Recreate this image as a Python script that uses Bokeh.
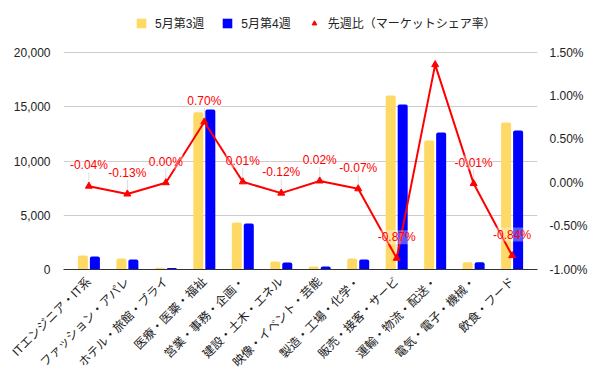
import math
from bokeh.plotting import figure
from bokeh.models import (ColumnDataSource, Range1d, LinearAxis, FixedTicker,
                          NumeralTickFormatter, PrintfTickFormatter, Legend, LegendItem, FactorRange)
from bokeh.transform import dodge
from bokeh.core.properties import value
from bokeh.embed import file_html
from bokeh.resources import INLINE

categories = ["ITエンジニア・IT系", "ファッション・アパレ", "ホテル・旅館・ブライ", "医療・医薬・福祉",
              "営業・事務・企画・", "建設・土木・エネル", "映像・イベント・芸能", "製造・工場・化学・",
              "販売・接客・サービ", "運輸・物流・配送・", "電気・電子・機械・", "飲食・フード"]
week3 = [1290, 1010, 150, 14500, 4330, 740, 280, 1010, 16030, 11890, 670, 13550]
week4 = [1200, 920, 130, 14750, 4240, 650, 270, 920, 15200, 12630, 660, 12800]
share_change = [-0.04, -0.13, 0.00, 0.70, 0.01, -0.12, 0.02, -0.07, -0.87, 1.36, -0.01, -0.84]
series_names = ["5月第3週", "5月第4週", "先週比（マーケットシェア率）"]
left_ticks = [0, 5000, 10000, 15000, 20000]
right_ticks = [-1.0, -0.5, 0.0, 0.5, 1.0, 1.5]

FONT = "Liberation Sans, Noto Sans CJK JP"
YELLOW = "#ffd966"
BLUE = "#0000ff"
RED = "#ff0000"

# layout: plotting area 217px tall, with 40px of headroom above it for the legend
plot_h = 217
head = 40
frame_h = plot_h + head
pct_lo, pct_hi = right_ticks[0], right_ticks[-1]
px = (pct_hi - pct_lo) / plot_h
left_px = (left_ticks[-1] - left_ticks[0]) / plot_h
labels = [("%.2f%%" % v) if v + 27 * px <= pct_hi else "" for v in share_change]

src = ColumnDataSource(dict(cat=categories, w3=week3, w4=week4, chg=share_change,
                            lab=labels,
                            lead0=[v + 2 * px for v in share_change],
                            lead1=[v + 14 * px if l else v for v, l in zip(share_change, labels)]))

p = figure(x_range=FactorRange(*categories, range_padding=0.16, range_padding_units="absolute"),
           y_range=Range1d(left_ticks[0], left_ticks[-1] + head * left_px),
           frame_width=474, frame_height=frame_h, output_backend="svg", toolbar_location=None,
           min_border_left=63, min_border_right=63, min_border_top=12, min_border_bottom=0)
p.extra_y_ranges = {"pct": Range1d(pct_lo, pct_hi + head * px)}
p.outline_line_color = None
p.xgrid.grid_line_color = None
p.ygrid.grid_line_color = "#cccccc"
p.ygrid.ticker = FixedTicker(ticks=left_ticks)

r3 = p.vbar(x=dodge("cat", -0.156, range=p.x_range), top="w3", width=0.26, source=src,
            fill_color=YELLOW, line_color=None, border_radius=(2, 2, 0, 0))
r4 = p.vbar(x=dodge("cat", 0.156, range=p.x_range), top="w4", width=0.26, source=src,
            fill_color=BLUE, line_color=None, border_radius=(2, 2, 0, 0))

p.segment(x0="cat", x1="cat", y0="lead0", y1="lead1", source=src, y_range_name="pct",
          line_color="#dddddd", line_width=1)
p.line(x="cat", y="chg", source=src, y_range_name="pct", line_color=RED, line_width=2)
rm = p.scatter(x="cat", y="chg", source=src, y_range_name="pct", marker="triangle",
               size=7, fill_color=RED, line_color=RED)
p.text(x="cat", y="chg", text="lab", source=src, y_range_name="pct", y_offset=-21,
       text_align="center", text_baseline="middle", text_color=RED,
       text_font=value(FONT), text_font_size="12px",
       background_fill_color="white", background_fill_alpha=0.35)

# axes
ax = p.yaxis[0]
ax.ticker = FixedTicker(ticks=left_ticks)
ax.formatter = NumeralTickFormatter(format="0,0")
ax.axis_line_color = None
ax.major_tick_line_color = None
ax.minor_tick_line_color = None
ax.major_label_standoff = 7
ax.major_label_text_font = FONT
ax.major_label_text_font_size = "12px"
ax.major_label_text_color = "#222222"

rax = LinearAxis(y_range_name="pct", ticker=FixedTicker(ticks=right_ticks),
                 formatter=PrintfTickFormatter(format="%.2f%%"))
rax.axis_line_color = None
rax.major_tick_line_color = None
rax.minor_tick_line_color = None
rax.major_label_standoff = 6
rax.major_label_text_font = FONT
rax.major_label_text_font_size = "12px"
rax.major_label_text_color = "#222222"
p.add_layout(rax, "right")

xa = p.xaxis[0]
xa.axis_line_color = "#333333"
xa.major_tick_line_color = None
xa.minor_tick_line_color = None
xa.major_label_orientation = math.pi / 4
xa.major_label_standoff = 4
xa.major_label_text_font = FONT
xa.major_label_text_font_size = "12px"
xa.major_label_text_color = "#222222"

legend = Legend(items=[LegendItem(label=series_names[0], renderers=[r3]),
                       LegendItem(label=series_names[1], renderers=[r4]),
                       LegendItem(label=series_names[2], renderers=[rm])],
                orientation="horizontal", location=(72, 238), padding=0, margin=0,
                spacing=17, label_standoff=8, glyph_width=12, glyph_height=12,
                label_height=12, label_text_font=FONT, label_text_font_size="12px",
                label_text_color="#222222", border_line_color=None,
                background_fill_alpha=0)
p.add_layout(legend, "center")

open("out.html", "w").write(file_html(p, INLINE))
